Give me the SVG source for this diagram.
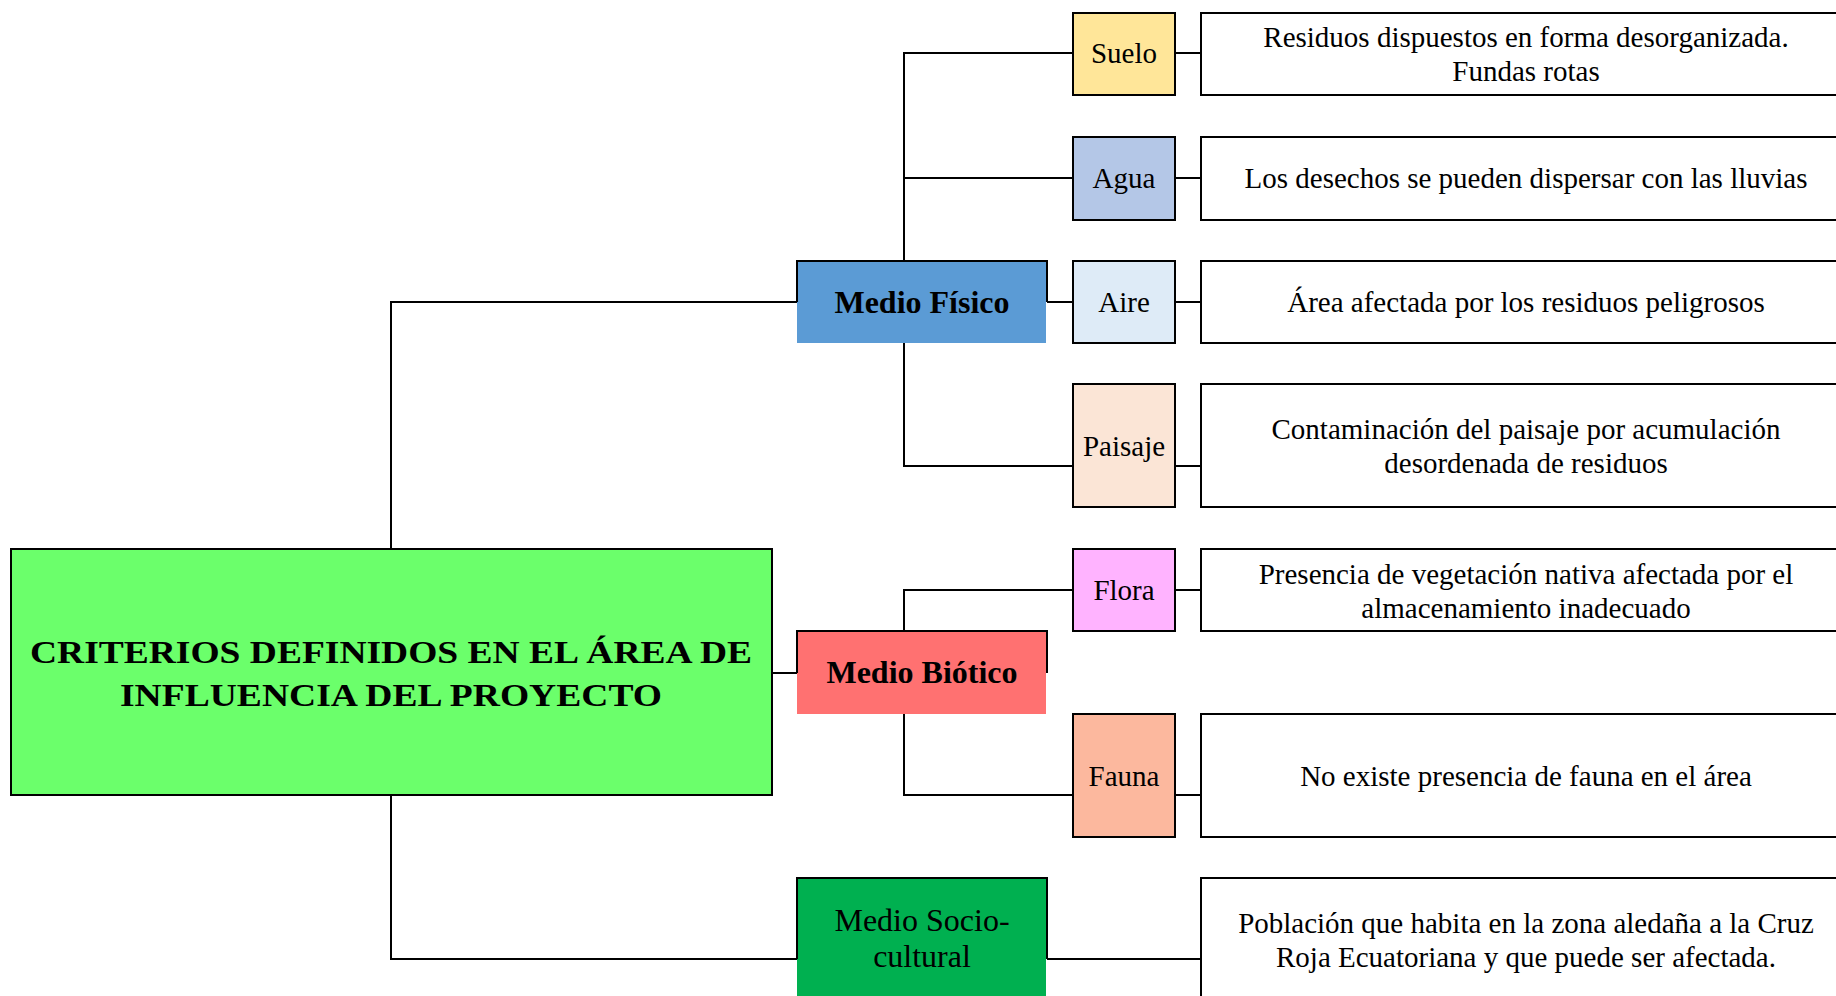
<svg xmlns="http://www.w3.org/2000/svg" width="1836" height="996" viewBox="0 0 1836 996">
<style>
.ln{fill:none;stroke:#000;stroke-width:2}
.bx{stroke:#000;stroke-width:2}
.t{font-family:"Liberation Serif","Times New Roman",serif;font-size:29px;fill:#000;text-anchor:middle}
.b{font-family:"Liberation Serif","Times New Roman",serif;font-size:32px;font-weight:bold;fill:#000;text-anchor:middle}
.m{font-family:"Liberation Serif","Times New Roman",serif;font-size:32px;fill:#000;text-anchor:middle}
</style>
<rect width="1836" height="996" fill="#fff"/>
<g id="connectors" class="ln">
<path d="M391,549 V302 H797"/>
<path d="M391,795 V959 H797"/>
<path d="M772,673 H797"/>
<path d="M904,261 V53 H1073"/>
<path d="M904,178 H1073"/>
<path d="M1047,302 H1073"/>
<path d="M904,343 V466 H1073"/>
<path d="M904,631 V590 H1073"/>
<path d="M904,714 V795 H1073"/>
<path d="M1175,53 H1201"/>
<path d="M1175,178 H1201"/>
<path d="M1175,302 H1201"/>
<path d="M1175,466 H1201"/>
<path d="M1175,590 H1201"/>
<path d="M1175,795 H1201"/>
<path d="M1047,959 H1201"/>
</g>
<g id="main">
<rect class="bx" x="11" y="549" width="761" height="246" fill="#6BFF6B"/>
<text class="b" x="391" y="663" font-size="39" textLength="722" lengthAdjust="spacingAndGlyphs">CRITERIOS DEFINIDOS EN EL ÁREA DE</text>
<text class="b" x="391" y="706" font-size="39" textLength="542" lengthAdjust="spacingAndGlyphs">INFLUENCIA DEL PROYECTO</text>
</g>
<g id="medio-fisico">
<rect x="797" y="261" width="249" height="82" fill="#5B9BD5"/>
<path class="ln" d="M797,302 V261 H1047 V302"/>
<text class="b" x="922" y="313">Medio Físico</text>
</g>
<g id="medio-biotico">
<rect x="797" y="632" width="249" height="82" fill="#FF7171"/>
<path class="ln" d="M797,673 V631 H1047 V673"/>
<text class="b" x="922" y="683">Medio Biótico</text>
</g>
<g id="medio-socio">
<rect x="797" y="878" width="249" height="120" fill="#00B050"/>
<path class="ln" d="M797,959 V878 H1047 V959"/>
<text class="m" x="922" y="931">Medio Socio-</text>
<text class="m" x="922" y="967">cultural</text>
</g>
<g id="suelo">
<rect class="bx" x="1073" y="13" width="102" height="82" fill="#FFE699"/>
<text class="t" x="1124" y="63">Suelo</text>
</g>
<g id="agua">
<rect class="bx" x="1073" y="137" width="102" height="83" fill="#B4C7E7"/>
<text class="t" x="1124" y="188">Agua</text>
</g>
<g id="aire">
<rect class="bx" x="1073" y="261" width="102" height="82" fill="#DEEBF7"/>
<text class="t" x="1124" y="312">Aire</text>
</g>
<g id="paisaje">
<rect class="bx" x="1073" y="384" width="102" height="123" fill="#FBE5D6"/>
<text class="t" x="1124" y="456">Paisaje</text>
</g>
<g id="flora">
<rect class="bx" x="1073" y="549" width="102" height="82" fill="#FFB3FF"/>
<text class="t" x="1124" y="600">Flora</text>
</g>
<g id="fauna">
<rect class="bx" x="1073" y="714" width="102" height="123" fill="#FCB89E"/>
<text class="t" x="1124" y="786">Fauna</text>
</g>
<g id="desc-suelo">
<rect class="bx" x="1201" y="13" width="660" height="82" fill="#fff"/>
<text class="t" x="1526" y="47">Residuos dispuestos en forma desorganizada.</text>
<text class="t" x="1526" y="81">Fundas rotas</text>
</g>
<g id="desc-agua">
<rect class="bx" x="1201" y="137" width="660" height="83" fill="#fff"/>
<text class="t" x="1526" y="188">Los desechos se pueden dispersar con las lluvias</text>
</g>
<g id="desc-aire">
<rect class="bx" x="1201" y="261" width="660" height="82" fill="#fff"/>
<text class="t" x="1526" y="312">Área afectada por los residuos peligrosos</text>
</g>
<g id="desc-paisaje">
<rect class="bx" x="1201" y="384" width="660" height="123" fill="#fff"/>
<text class="t" x="1526" y="439">Contaminación del paisaje por acumulación</text>
<text class="t" x="1526" y="473">desordenada de residuos</text>
</g>
<g id="desc-flora">
<rect class="bx" x="1201" y="549" width="660" height="82" fill="#fff"/>
<text class="t" x="1526" y="584">Presencia de vegetación nativa afectada por el</text>
<text class="t" x="1526" y="618">almacenamiento inadecuado</text>
</g>
<g id="desc-fauna">
<rect class="bx" x="1201" y="714" width="660" height="123" fill="#fff"/>
<text class="t" x="1526" y="786">No existe presencia de fauna en el área</text>
</g>
<g id="desc-socio">
<rect class="bx" x="1201" y="878" width="660" height="130" fill="#fff"/>
<text class="t" x="1526" y="933">Población que habita en la zona aledaña a la Cruz</text>
<text class="t" x="1526" y="967">Roja Ecuatoriana y que puede ser afectada.</text>
</g>
</svg>
